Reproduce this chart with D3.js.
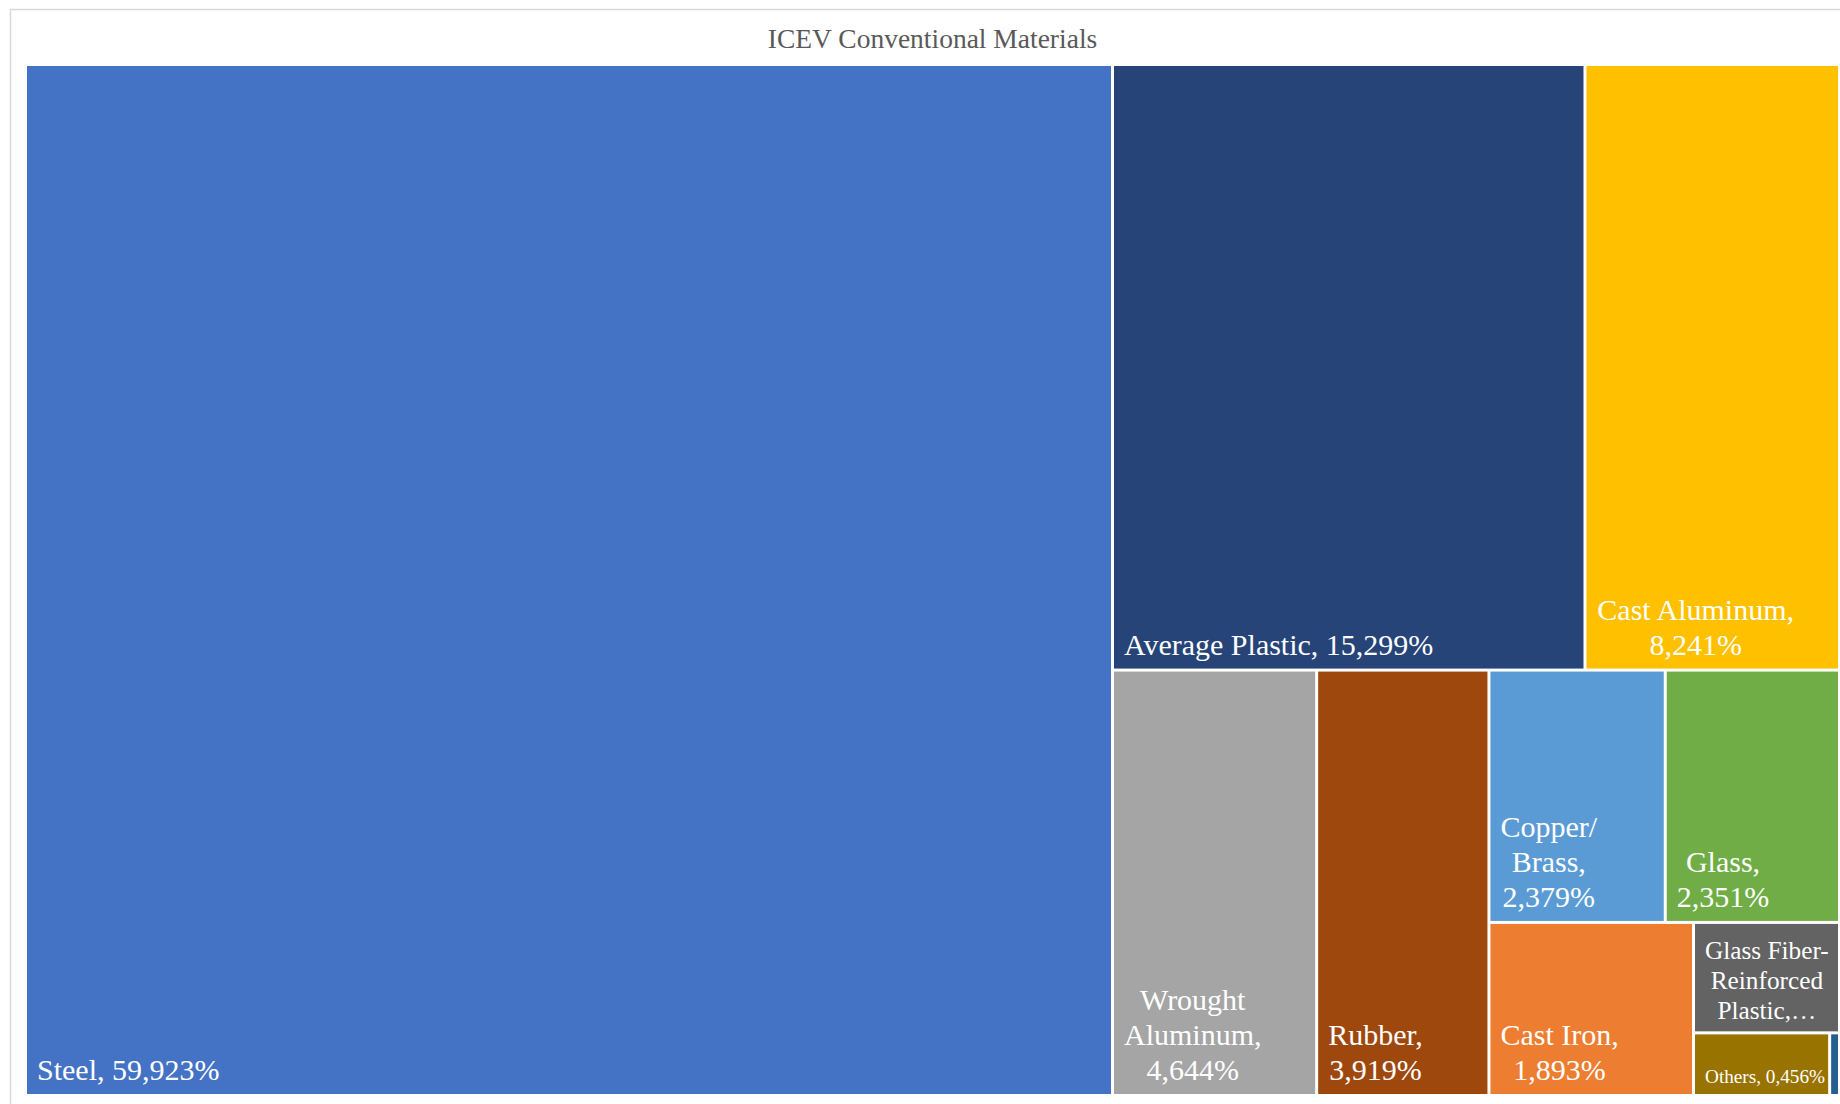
<!DOCTYPE html>
<html>
<head>
<meta charset="utf-8">
<script src="https://cdn.jsdelivr.net/npm/d3@7"></script>
<style>
  html, body { margin: 0; padding: 0; background: #ffffff; }
  svg { display: block; }
</style>
</head>
<body>
<svg id="chart" width="1840" height="1104"></svg>
<script>
// ---- Data (percent of vehicle mass) ----
const title = "ICEV Conventional Materials";
const categories = ["Steel", "Cast Iron", "Wrought Aluminum", "Cast Aluminum", "Copper/Brass",
                    "Glass", "Average Plastic", "Rubber", "Glass Fiber-Reinforced Plastic", "Others", "Magnesium"];
const values = [59.923, 1.893, 4.644, 8.241, 2.379, 2.351, 15.299, 3.919, 0.862, 0.456, 0.033];
const colors = ["#4472C4", "#ED7D31", "#A5A5A5", "#FFC000", "#5B9BD5",
                "#70AD47", "#264478", "#9E480E", "#636363", "#997300", "#255E91"];

// Excel-like strip grouping (number of items per strip, largest first)
const stripSizes = [1, 2, 1, 1, 2, 1, 1, 1, 1];

const W = 1840, H = 1104;
const plot = { left: 27, top: 66, right: 1838, bottom: 1094 };
const fontFamily = "'Liberation Serif', 'Times New Roman', serif";

const svg = d3.select("#chart");

// chart frame
svg.append("rect")
  .attr("x", 10.5).attr("y", 9.5)
  .attr("width", W + 20).attr("height", H + 20)
  .attr("fill", "#ffffff").attr("stroke", "#D9D9D9").attr("stroke-width", 1.5);

svg.append("text")
  .attr("x", (plot.left + plot.right) / 2)
  .attr("y", 47.5)
  .attr("text-anchor", "middle")
  .attr("font-family", fontFamily)
  .attr("font-size", 27.5)
  .attr("fill", "#595959")
  .text(title);

const data = categories.map((name, i) => ({ name, value: values[i], color: colors[i] }));

function excelTile(parent, x0, y0, x1, y1) {
  const nodes = parent.children;
  let remaining = parent.value;
  let i = 0;
  for (const n of stripSizes) {
    if (i >= nodes.length) break;
    const kids = nodes.slice(i, i + n);
    const row = { children: kids, value: d3.sum(kids, d => d.value) };
    const dx = x1 - x0, dy = y1 - y0;
    if (dx < dy) {
      const h = remaining ? dy * row.value / remaining : 0;
      d3.treemapDice(row, x0, y0, x1, y0 + h);
      y0 += h;
    } else {
      const w = remaining ? dx * row.value / remaining : 0;
      d3.treemapSlice(row, x0, y0, x0 + w, y1);
      x0 += w;
    }
    remaining -= row.value;
    i += n;
  }
}

const root = d3.hierarchy({ children: data })
  .sum(d => d.value || 0)
  .sort((a, b) => b.value - a.value);

d3.treemap()
  .size([plot.right - plot.left, plot.bottom - plot.top])
  .paddingInner(3)
  .tile(excelTile)(root);

const g = svg.append("g").attr("transform", `translate(${plot.left},${plot.top})`);

const leaves = root.leaves();
g.selectAll("rect.cell")
  .data(leaves)
  .join("rect")
  .attr("class", "cell")
  .attr("x", d => d.x0).attr("y", d => d.y0)
  .attr("width", d => Math.max(0, d.x1 - d.x0))
  .attr("height", d => Math.max(0, d.y1 - d.y0))
  .attr("fill", d => d.data.color);

// text measuring
const ctx = document.createElement("canvas").getContext("2d");
function measure(t, size) {
  ctx.font = `${size}px ${fontFamily}`;
  return ctx.measureText(t).width;
}
const fmt = v => d3.format(".3f")(v).replace(".", ",") + "%";

function wrap(text, size, maxW) {
  const tokens = text.split(/(?<=[ \/-])/);
  const lines = [];
  let line = "";
  for (const tok of tokens) {
    const test = line + tok;
    if (line && measure(test.trimEnd(), size) > maxW) {
      lines.push(line.trimEnd());
      line = tok;
    } else {
      line = test;
    }
  }
  if (line) lines.push(line.trimEnd());
  return lines;
}

leaves.forEach(d => {
  const w = d.x1 - d.x0, h = d.y1 - d.y0;
  const maxW = w - 12;
  if (maxW < 30 || h < 25) return;
  const size = Math.min(30, 18 + (h - 50) * 0.127);
  const lh = size * 1.17;
  let lines = wrap(`${d.data.name}, ${fmt(d.data.value)}`, size, maxW);
  const maxLines = Math.max(1, Math.floor((h - 8) / lh));
  if (lines.length > maxLines) {
    lines = lines.slice(0, maxLines);
    lines[maxLines - 1] = lines[maxLines - 1].replace(/[\s]+$/, "") + "…";
  }
  const blockW = d3.max(lines, l => measure(l, size));
  const cx = d.x0 + 10 + blockW / 2;
  const baseLast = d.y1 - (7 + 0.23 * size);
  const t = g.append("text")
    .attr("font-family", fontFamily)
    .attr("font-size", size)
    .attr("fill", "#ffffff")
    .attr("text-anchor", "middle");
  lines.forEach((l, k) => {
    t.append("tspan")
      .attr("x", cx)
      .attr("y", baseLast - (lines.length - 1 - k) * lh)
      .text(l);
  });
});
</script>
</body>
</html>
